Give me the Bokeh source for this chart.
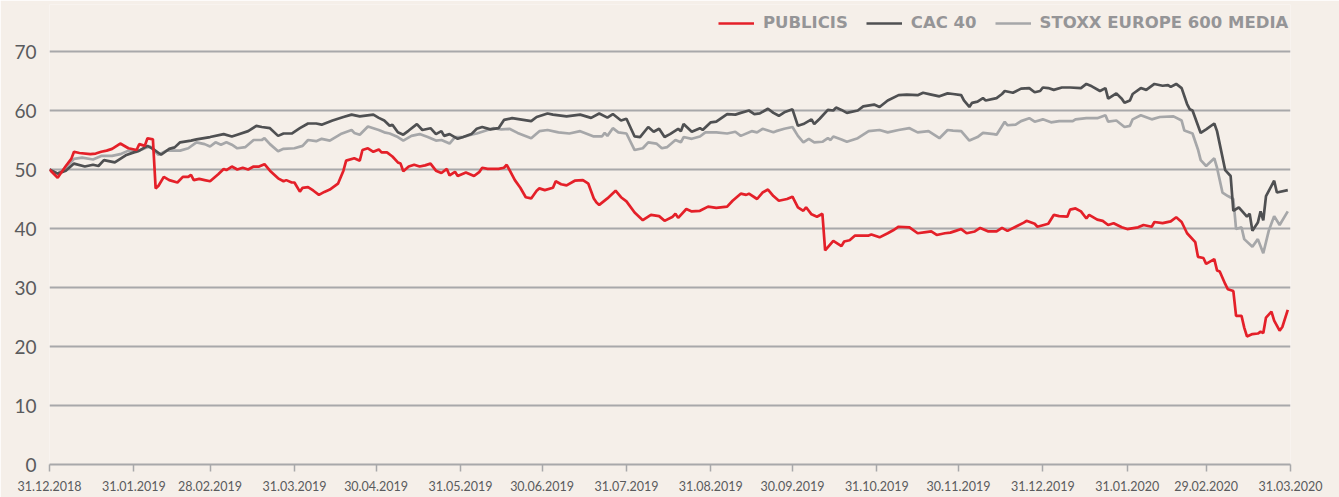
import pandas as pd
from bokeh.plotting import figure
from bokeh.models import Range1d, FixedTicker, DatetimeTickFormatter, Legend, LegendItem
from bokeh.embed import file_html
from bokeh.resources import INLINE

# ---------------- data ----------------
START = "2018-12-31"
END = "2020-03-31"

tick_dates = ["2018-12-31", "2019-01-31", "2019-02-28", "2019-03-31", "2019-04-30",
              "2019-05-31", "2019-06-30", "2019-07-31", "2019-08-31", "2019-09-30",
              "2019-10-31", "2019-11-30", "2019-12-31", "2020-01-31", "2020-02-29",
              "2020-03-31"]
y_ticks = [0, 10, 20, 30, 40, 50, 60, 70]

series_names = ["PUBLICIS", "CAC 40", "STOXX EUROPE 600 MEDIA"]

# days elapsed since 31.12.2018, and index values
publicis_days = [0, 3, 6, 8, 9, 11, 15, 17, 19, 21, 23, 26, 29, 32, 33, 35, 36, 38, 39, 40,
                 42, 44, 47, 49, 51, 52, 53, 55, 57, 59, 62, 64, 65, 67, 69, 71, 73, 75, 77, 79,
                 81, 84, 86, 87, 89, 90, 92, 93, 95, 97, 99, 101, 103, 106, 108, 109, 112, 114, 115, 117,
                 119, 121, 122, 124, 126, 128, 129, 130, 132, 134, 136, 138, 140, 142, 144, 146, 147, 149, 150, 153,
                 156, 158, 159, 161, 165, 167, 168, 171, 173, 175, 177, 179, 180, 182, 185, 186, 188, 190, 193, 196,
                 198, 200, 201, 202, 205, 208, 210, 212, 215, 218, 221, 224, 226, 229, 230, 231, 234, 236, 239, 242,
                 245, 249, 251, 254, 256, 257, 260, 262, 264, 266, 268, 271, 273, 275, 277, 278, 280, 282, 284, 285,
                 288, 291, 292, 294, 296, 301, 302, 305, 308, 310, 312, 316, 319, 322, 324, 326, 329, 331, 333, 335,
                 337, 340, 342, 345, 348, 350, 352, 355, 358, 359, 362, 363, 367, 369, 371, 374, 375, 377, 379, 381,
                 382, 385, 387, 389, 391, 394, 396, 400, 402, 405, 406, 409, 412, 414, 416, 418, 421, 422, 424, 425,
                 428, 429, 430, 432, 433, 435, 436, 438, 439, 440, 442, 444, 445, 446, 447, 449, 450, 452, 453, 455]
publicis = [50.0, 48.6, 50.6, 51.8, 53.0, 52.8, 52.6, 52.7, 53.0, 53.2, 53.5, 54.4, 53.6, 53.3, 54.3, 54.0, 55.3, 55.1, 46.8, 47.2,
            48.75, 48.2, 47.8, 48.75, 48.75, 49.1, 48.2, 48.4, 48.2, 48.0, 49.2, 50.1, 49.9, 50.5, 50.0, 50.3, 50.0, 50.5, 50.5, 50.9,
            49.8, 48.5, 48.0, 48.2, 47.8, 47.8, 46.25, 46.9, 47.0, 46.4, 45.7, 46.2, 46.6, 47.6, 49.8, 51.5, 51.9, 51.5, 53.3, 53.6,
            53.0, 53.4, 52.9, 52.9, 52.2, 51.2, 51.0, 49.7, 50.5, 50.8, 50.5, 50.7, 51.0, 49.8, 49.4, 50.1, 49.0, 49.6, 48.9, 49.5,
            48.9, 49.6, 50.3, 50.1, 50.1, 50.3, 50.8, 48.2, 46.9, 45.3, 45.1, 46.4, 46.8, 46.5, 46.9, 48.0, 47.5, 47.3, 48.1, 48.2,
            47.6, 45.1, 44.4, 44.0, 45.1, 46.4, 45.3, 44.6, 42.7, 41.4, 42.3, 42.1, 41.3, 42.0, 42.5, 41.8, 43.3, 42.9, 43.0, 43.7,
            43.5, 43.7, 44.7, 45.9, 45.7, 45.9, 45.0, 46.1, 46.6, 45.5, 44.7, 45.0, 45.4, 43.6, 43.0, 43.6, 42.4, 42.0, 42.5, 36.3,
            37.9, 37.0, 37.8, 38.0, 38.8, 38.8, 39.0, 38.5, 39.2, 39.7, 40.3, 40.2, 39.2, 39.4, 39.5, 38.9, 39.2, 39.3, 39.6, 39.9,
            39.2, 39.5, 40.1, 39.5, 39.5, 40.1, 39.6, 40.3, 41.0, 41.3, 40.8, 40.3, 40.8, 42.3, 42.1, 42.0, 43.2, 43.4, 42.9, 41.7,
            42.3, 41.5, 41.3, 40.6, 40.9, 40.2, 39.9, 40.2, 40.6, 40.3, 41.1, 40.9, 41.2, 41.9, 41.1, 39.2, 37.7, 35.2, 35.0, 34.0,
            34.8, 32.9, 32.7, 30.6, 29.7, 29.4, 25.2, 25.2, 23.2, 21.7, 22.1, 22.2, 22.5, 22.3, 24.9, 25.9, 24.4, 22.7, 23.3, 26.2]

cac_days = [0, 3, 6, 9, 13, 16, 18, 20, 24, 26, 28, 31, 33, 36, 38, 41, 44, 46, 48, 52,
            54, 59, 64, 67, 69, 73, 76, 78, 81, 84, 86, 89, 92, 95, 98, 100, 104, 108, 111, 114,
            119, 121, 123, 125, 126, 128, 130, 132, 135, 137, 140, 142, 144, 145, 147, 150, 152, 155, 157, 159,
            162, 165, 167, 170, 177, 179, 183, 185, 190, 195, 199, 202, 205, 207, 210, 212, 215, 217, 220, 222,
            224, 226, 228, 231, 232, 233, 236, 239, 240, 243, 245, 249, 252, 254, 257, 259, 261, 264, 266, 268,
            270, 273, 275, 277, 280, 281, 283, 286, 288, 289, 291, 293, 297, 299, 303, 305, 308, 312, 315, 319,
            321, 324, 327, 330, 332, 335, 336, 338, 339, 341, 343, 344, 348, 350, 351, 354, 357, 360, 362, 364,
            365, 367, 369, 372, 375, 379, 381, 383, 386, 388, 389, 392, 394, 395, 397, 398, 401, 403, 406, 409,
            411, 412, 414, 416, 418, 419, 420, 423, 425, 428, 429, 432, 434, 435, 437, 440, 441, 442, 444, 445,
            446, 447, 450, 451, 455]
cac40 = [50.0, 49.3, 49.8, 51.0, 50.5, 50.8, 50.6, 51.6, 51.2, 51.8, 52.4, 52.9, 53.2, 54.0, 53.5, 52.5, 53.5, 53.75, 54.6, 54.9,
         55.1, 55.5, 56.0, 55.6, 55.9, 56.5, 57.4, 57.2, 57.0, 55.7, 56.1, 56.1, 57.0, 57.8, 57.8, 57.6, 58.3, 58.9, 59.3, 59.0,
         59.3, 58.75, 58.3, 57.4, 57.6, 56.3, 55.9, 56.6, 57.7, 56.7, 57.0, 56.0, 56.5, 55.7, 56.0, 55.2, 55.5, 56.0, 56.9, 57.2,
         56.8, 57.0, 58.4, 58.7, 58.2, 58.9, 59.5, 59.3, 59.0, 59.3, 58.75, 59.5, 58.8, 59.4, 58.3, 58.6, 55.6, 55.5, 57.2, 56.4,
         56.9, 55.5, 56.0, 56.9, 56.5, 57.7, 56.4, 57.0, 56.7, 58.0, 58.1, 59.4, 59.3, 59.6, 60.0, 59.4, 59.5, 60.3, 59.6, 59.1,
         59.7, 60.2, 57.4, 57.7, 58.5, 57.7, 58.6, 60.1, 60.0, 60.5, 60.1, 59.6, 60.0, 60.7, 61.0, 60.6, 61.7, 62.6, 62.7, 62.6,
         63.0, 62.7, 62.4, 62.9, 62.8, 62.6, 61.7, 60.6, 61.3, 61.5, 62.1, 61.7, 62.1, 62.8, 63.3, 63.0, 63.7, 63.8, 63.1, 63.3,
         63.9, 63.8, 63.5, 63.9, 63.9, 63.8, 64.5, 64.1, 63.3, 63.8, 62.0, 62.9, 62.0, 61.3, 61.7, 62.8, 63.8, 63.5, 64.5, 64.2,
         64.3, 64.0, 64.5, 63.8, 61.1, 60.2, 60.0, 56.2, 56.8, 57.8, 56.5, 49.9, 48.9, 43.0, 43.6, 42.0, 42.5, 39.6, 41.0, 42.9,
         41.4, 45.5, 48.1, 46.1, 46.5]

stoxx_days = [0, 3, 6, 9, 12, 16, 19, 23, 26, 29, 32, 35, 37, 40, 43, 48, 51, 54, 57, 59,
              61, 63, 65, 67, 69, 72, 75, 78, 79, 81, 84, 86, 90, 93, 95, 98, 100, 103, 107, 111,
              112, 114, 117, 121, 123, 125, 128, 130, 133, 136, 139, 142, 144, 147, 149, 152, 155, 157, 159, 163,
              166, 169, 172, 177, 180, 183, 187, 191, 195, 200, 203, 204, 205, 207, 209, 212, 215, 218, 220, 223,
              225, 227, 230, 232, 233, 236, 239, 241, 245, 249, 252, 254, 258, 260, 262, 266, 267, 270, 273, 275,
              277, 279, 281, 284, 286, 287, 288, 291, 293, 297, 301, 305, 308, 312, 316, 319, 323, 327, 330, 332,
              335, 338, 341, 343, 347, 348, 351, 352, 355, 357, 360, 362, 365, 368, 371, 376, 377, 381, 385, 388,
              389, 392, 395, 397, 398, 401, 405, 408, 413, 416, 417, 420, 422, 423, 425, 428, 429, 431, 433, 435,
              436, 438, 439, 442, 444, 446, 448, 450, 452, 455]
stoxx = [50.0, 49.3, 50.3, 51.8, 52.0, 51.7, 52.3, 52.3, 52.6, 53.2, 53.0, 53.6, 53.9, 52.5, 53.2, 53.2, 53.6, 54.6, 54.3, 53.9,
         54.6, 54.2, 54.6, 54.2, 53.6, 53.8, 55.0, 55.0, 55.3, 54.3, 53.1, 53.5, 53.6, 54.0, 55.0, 54.8, 55.2, 54.9, 56.0, 56.7,
         56.2, 55.9, 57.3, 56.7, 56.3, 56.1, 55.5, 54.9, 55.7, 56.0, 55.5, 54.9, 55.0, 54.4, 55.5, 55.5, 55.9, 56.1, 56.4, 57.0,
         56.8, 56.9, 56.2, 55.3, 56.5, 56.7, 56.3, 56.1, 56.5, 55.6, 55.6, 56.2, 55.7, 57.0, 56.3, 56.1, 53.3, 53.6, 54.6, 54.4,
         53.6, 53.8, 55.0, 54.6, 55.5, 55.2, 55.6, 56.3, 56.3, 56.1, 56.4, 55.7, 56.5, 56.3, 56.9, 56.3, 56.5, 56.9, 57.2, 55.7,
         54.6, 55.2, 54.6, 54.7, 55.3, 55.0, 55.6, 55.1, 54.7, 55.3, 56.5, 56.7, 56.3, 56.7, 57.0, 56.3, 56.5, 55.3, 56.7, 56.6,
         56.5, 54.9, 55.5, 56.2, 56.0, 55.9, 58.1, 57.5, 57.6, 58.2, 58.7, 58.1, 58.5, 58.0, 58.2, 58.2, 58.5, 58.7, 58.7, 59.2,
         58.1, 58.3, 57.2, 57.4, 58.5, 59.2, 58.5, 58.9, 59.0, 58.3, 56.6, 56.1, 53.4, 51.6, 50.6, 51.9, 50.3, 46.1, 45.5, 45.0,
         39.9, 40.2, 38.2, 36.9, 38.2, 35.8, 39.6, 42.1, 40.6, 42.9]

# ---------------- styling ----------------
BG = "#F5EFE9"
GRID = "#A8A8AA"
RED = "#E42029"
DARK = "#4F5052"
LIGHT = "#A6A7A9"
TEXT = "#5A5B5D"
LEGEND_TEXT = "#959597"

W, H = 1339, 497
BORDER_L, BORDER_R, BORDER_T, BORDER_B = 49, 49, 4, 33
GRID_TOP_PX = 51          # pixel row of the 70 line
frame_h = H - BORDER_T - BORDER_B
y_top = 70 * frame_h / (H - BORDER_B - GRID_TOP_PX)   # leaves room for the legend above 70


def to_dates(days):
    return pd.Timestamp(START) + pd.to_timedelta(days, unit="D")


p = figure(width=W, height=H, x_axis_type="datetime",
           x_range=Range1d(pd.Timestamp(START), pd.Timestamp(END)),
           y_range=Range1d(0, y_top),
           output_backend="svg", toolbar_location=None,
           min_border_left=BORDER_L, min_border_right=BORDER_R,
           min_border_top=BORDER_T, min_border_bottom=BORDER_B)
p.background_fill_color = BG
p.border_fill_color = BG
p.outline_line_color = None

r_stoxx = p.line(to_dates(stoxx_days), stoxx, line_color=LIGHT, line_width=2.7)
r_cac = p.line(to_dates(cac_days), cac40, line_color=DARK, line_width=2.7)
r_pub = p.line(to_dates(publicis_days), publicis, line_color=RED, line_width=2.7)

# axes
tick_ms = [pd.Timestamp(d).value // 10**6 for d in tick_dates]
p.xaxis.ticker = FixedTicker(ticks=tick_ms)
fmt = "%d.%m.%Y"
p.xaxis.formatter = DatetimeTickFormatter(days=fmt, months=fmt, years=fmt, hours=fmt,
                                          hourmin=fmt, minutes=fmt, minsec=fmt,
                                          seconds=fmt, milliseconds=fmt, microseconds=fmt)
p.xaxis.axis_line_color = GRID
p.xaxis.axis_line_width = 2
p.xaxis.major_tick_line_color = GRID
p.xaxis.major_tick_line_width = 1.5
p.xaxis.major_tick_in = 0
p.xaxis.major_tick_out = 7
p.xaxis.minor_tick_line_color = None
p.xaxis.major_label_standoff = 9
p.xaxis.major_label_text_font = "Lato"
p.xaxis.major_label_text_font_size = "12.5px"
p.xaxis.major_label_text_color = TEXT

p.yaxis.ticker = FixedTicker(ticks=y_ticks)
p.yaxis.axis_line_color = None
p.yaxis.major_tick_line_color = None
p.yaxis.minor_tick_line_color = None
p.yaxis.major_tick_out = 0
p.yaxis.major_tick_in = 0
p.yaxis.major_label_standoff = 13
p.yaxis.major_label_text_font = "Lato"
p.yaxis.major_label_text_font_size = "19px"
p.yaxis.major_label_text_color = TEXT

p.xgrid.visible = False
p.ygrid.grid_line_color = GRID
p.ygrid.grid_line_width = 2

legend = Legend(items=[LegendItem(label=series_names[0], renderers=[r_pub]),
                       LegendItem(label=series_names[1], renderers=[r_cac]),
                       LegendItem(label=series_names[2], renderers=[r_stoxx])],
                orientation="horizontal", location=(669, frame_h - 28))
legend.background_fill_alpha = 0
legend.border_line_color = None
legend.padding = 0
legend.margin = 0
legend.spacing = 18
legend.glyph_width = 36
legend.glyph_height = 14
legend.label_standoff = 9
legend.label_text_font = "DejaVu Sans"
legend.label_text_font_style = "bold"
legend.label_text_font_size = "16.5px"
legend.label_text_color = LEGEND_TEXT
p.add_layout(legend)

html = file_html(p, INLINE, title="Publicis")
html = html.replace("<body>", '<body style="margin:0;background-color:%s">' % BG, 1)
open("out.html", "w").write(html)
